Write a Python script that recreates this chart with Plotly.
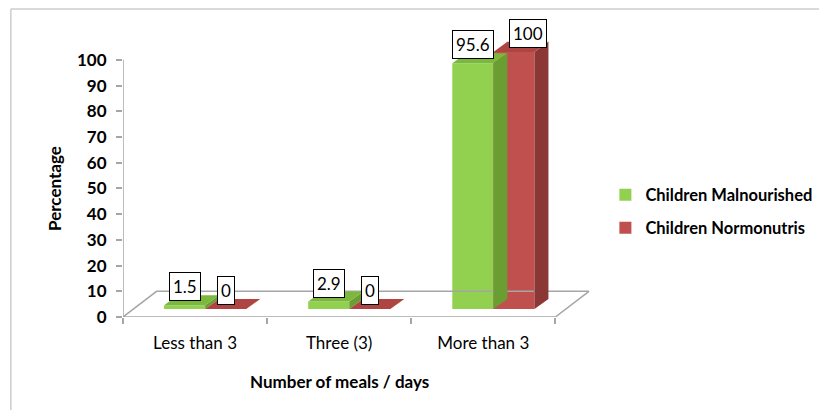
import plotly.graph_objects as go

categories = ["Less than 3", "Three (3)", "More than 3"]
malnourished = [1.5, 2.9, 95.6]
normonutris = [0, 0, 100]
series_names = ["Children Malnourished", "Children Normonutris"]
y_ticks = [0, 10, 20, 30, 40, 50, 60, 70, 80, 90, 100]

# styling / geometry
FONT = "Lato"
GREEN = ("#92D050", "#7CB83E", "#6A9E32")   # front, top, side
RED = ("#C0504D", "#AE4542", "#8A3735")
GRID = "#A6A6A6"
BAR_W = 0.285
BASE = 3.1          # front plane of bars lifted (3D depth)
SHIFT = 0.07        # front plane shifted right
DDX, DDY = 0.097, 3.9   # bar depth
FDX, FDY = 0.233, 10.0  # floor depth

W, H = 819, 410
L, T, B = 123, 29, 93
XR = [-0.5, 2.9]
YR = [0, 112]
PX = 144.0
plot_w = (XR[1] - XR[0]) * PX
R = W - L - plot_w
plot_h = H - T - B

def px_to_paper_x(p):
    return (p - L) / plot_w

def px_to_paper_y(p):
    return (H - B - p) / plot_h

fig = go.Figure()

# floor
floor_x = [-0.5, -0.5 + FDX, 2.5 + FDX, 2.5]
floor_y = [0, FDY, FDY, 0]
fig.add_trace(go.Scatter(x=floor_x, y=floor_y, mode="lines",
                         line=dict(color=GRID, width=1.5),
                         showlegend=False, hoverinfo="skip"))

offsets = [-BAR_W + SHIFT, SHIFT]
series = [malnourished, normonutris]
colors = [GREEN, RED]

for k, (vals, col, off, name) in enumerate(zip(series, colors, offsets, series_names)):
    xs = list(range(len(categories)))
    # front faces
    fig.add_trace(go.Bar(x=xs, y=vals, base=[BASE] * len(vals), width=BAR_W,
                         offset=off, marker=dict(color=col[0], line=dict(width=0)),
                         name=name, legend="legend" if k == 0 else "legend2"))
    for i, v in enumerate(vals):
        x0 = i + off
        x1 = x0 + BAR_W
        top = BASE + v
        # side face
        fig.add_trace(go.Scatter(
            x=[x1, x1 + DDX, x1 + DDX, x1, x1],
            y=[BASE, BASE + DDY, top + DDY, top, BASE],
            fill="toself", fillcolor=col[2], mode="lines",
            line=dict(width=0, color=col[2]), showlegend=False, hoverinfo="skip"))
        # top face
        fig.add_trace(go.Scatter(
            x=[x0, x1, x1 + DDX, x0 + DDX, x0],
            y=[top, top, top + DDY, top + DDY, top],
            fill="toself", fillcolor=col[1], mode="lines",
            line=dict(width=0, color=col[1]), showlegend=False, hoverinfo="skip"))

# data labels
for k, (vals, off) in enumerate(zip(series, offsets)):
    for i, v in enumerate(vals):
        xc = i + off + BAR_W / 2
        if k == 1 and malnourished[i] > 10:
            xc += DDX
        fig.add_annotation(x=xc, y=BASE + v, text=str(v), showarrow=False,
                           xanchor="center", yanchor="bottom", yshift=4,
                           font=dict(family=FONT, size=17, color="black"),
                           bgcolor="white", bordercolor="black", borderwidth=1,
                           borderpad=3)

# axes lines as shapes
fig.add_shape(type="line", xref="x", yref="y", x0=-0.5, x1=-0.5, y0=0, y1=100,
              line=dict(color=GRID, width=1.5))
fig.add_shape(type="line", xref="x", yref="y", x0=-0.5, x1=2.5, y0=0, y1=0,
              line=dict(color=GRID, width=1.5))

# outer frame
fig.add_shape(type="rect", xref="paper", yref="paper",
              x0=px_to_paper_x(11), x1=px_to_paper_x(840),
              y0=px_to_paper_y(430), y1=px_to_paper_y(9),
              line=dict(color="#B4B4B4", width=1), layer="below")

# axis titles
fig.add_annotation(xref="paper", yref="paper", x=px_to_paper_x(55), y=px_to_paper_y(188),
                   xanchor="center", yanchor="middle",
                   text="<b>Percentage</b>", textangle=-90, showarrow=False,
                   font=dict(family=FONT, size=17, color="black"))
fig.add_annotation(xref="paper", yref="paper", x=px_to_paper_x(339), y=px_to_paper_y(381),
                   xanchor="center", yanchor="middle",
                   text="<b>Number of meals / days</b>", showarrow=False,
                   font=dict(family=FONT, size=17, color="black"))

legend_common = dict(xanchor="left", yanchor="middle", bgcolor="rgba(0,0,0,0)",
                     font=dict(family=FONT, size=16.5, color="black", weight="bold"),
                     itemwidth=30)

fig.update_layout(
    width=W, height=H,
    margin=dict(l=L, r=R, t=T, b=B, autoexpand=False),
    paper_bgcolor="white", plot_bgcolor="white",
    barmode="overlay",
    xaxis=dict(range=XR, showgrid=False, zeroline=False, showline=False,
               tickvals=list(range(len(categories))), ticktext=categories,
               ticks="", ticklabelstandoff=14,
               tickfont=dict(family=FONT, size=17, color="black"),
               minor=dict(tick0=-0.5, dtick=1, ticks="outside", ticklen=6,
                          tickcolor=GRID, tickwidth=1.5, showgrid=False)),
    yaxis=dict(range=YR, showgrid=False, zeroline=False, showline=False,
               tickvals=y_ticks, ticks="outside", ticklen=6, tickcolor=GRID,
               tickwidth=1.5, ticklabelstandoff=6,
               tickfont=dict(family=FONT, size=17, color="black", weight="bold")),
    legend=dict(x=px_to_paper_x(605), y=px_to_paper_y(195), **legend_common),
    legend2=dict(x=px_to_paper_x(605), y=px_to_paper_y(228), **legend_common),
    showlegend=True,
)

fig.write_html("out.html")
